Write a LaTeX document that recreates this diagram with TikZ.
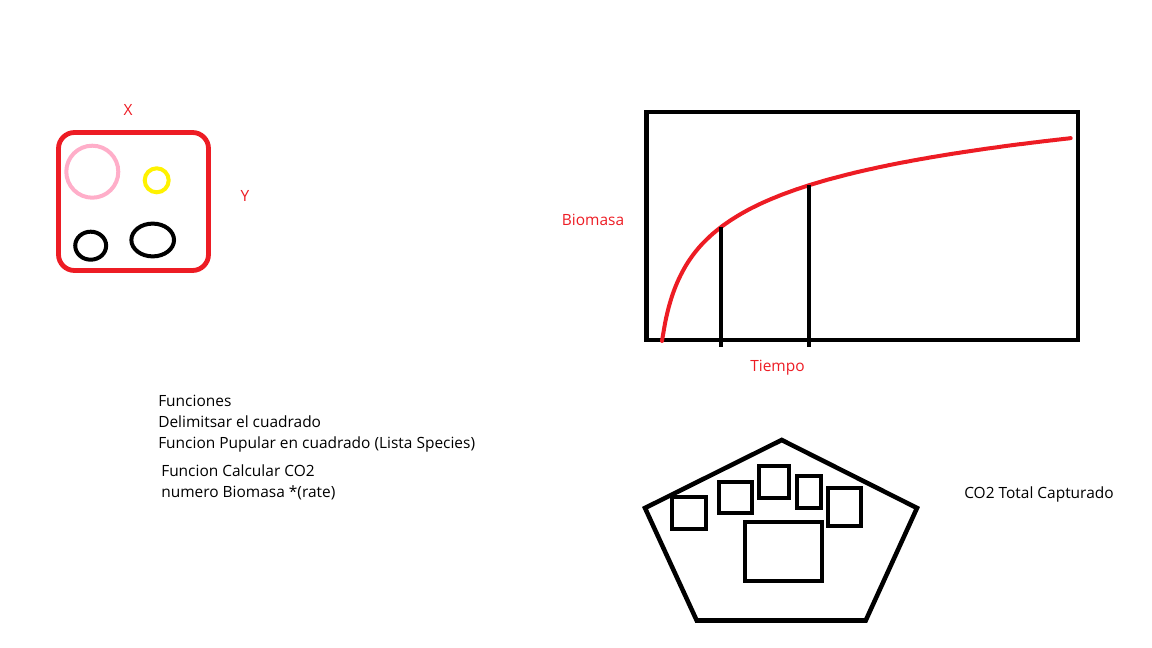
\documentclass[tikz,border=0pt]{standalone}
\usepackage{fontspec}
\setmainfont{Open Sans}
\definecolor{paintred}{HTML}{ED1C24}
\definecolor{paintpink}{HTML}{FFAEC9}
\definecolor{paintyellow}{HTML}{FFF200}
\tikzset{
    redlabel/.style={text=paintred, font=\fontsize{11.6}{14}\selectfont, inner sep=0pt},
    blacklabel/.style={text=black, font=\fontsize{11.6}{14}\selectfont, inner sep=0pt, anchor=base west},
    thickline/.style={line width=3.4pt},
    blob/.style={line width=3pt},
}
\begin{document}
\begin{tikzpicture}[x=0.75pt,y=-0.75pt]
        \useasboundingbox (0,0) rectangle (1152,648);

        % Square with species
        \draw[paintred, line width=3.6pt, rounded corners=12pt] (58.5,132.5) rectangle (208.5,270.5);
        \node[redlabel] (xlab) at (128,110) {X};
        \node[redlabel] (ylab) at (245,196) {Y};
        \draw[blob, paintpink] (92.3,171.7) circle [radius=19.5pt];
        \draw[blob, paintyellow] (156.7,180.3) circle [radius=9pt];
        \draw[blob] (90.7,245.7) ellipse [x radius=11.6pt, y radius=10.5pt];
        \draw[blob] (152.7,240) ellipse [x radius=16pt, y radius=12.3pt];

        % Biomass curve
        \draw[thickline] (646.5,112) rectangle (1078,340);
        \draw[paintred, line width=3pt, line cap=round] plot[domain=0:408.7, samples=120, smooth]
            ({662+\x}, {341-1132*(1-exp(-0.05*ln(1+\x/8)))});
        \draw[line width=3pt] (720.7,227) -- (720.7,346.7);
        \draw[line width=3pt] (809.3,185) -- (809.3,346.7);
        \node[redlabel] (biomasa) at (593,219.5) {Biomasa};
        \node[redlabel] (tiempo) at (777.5,367.5) {Tiempo};

        % Functions
        \node[blacklabel] (fun0) at (158,406.7) {Funciones};
        \node[blacklabel] (fun1) at (158,427.5) {Delimitsar el cuadrado};
        \node[blacklabel] (fun2) at (158,448.5) {Funcion Pupular en cuadrado (Lista Species)};
        \node[blacklabel] (fun3) at (161,476) {Funcion Calcular CO2};
        \node[blacklabel] (fun4) at (161,497) {numero Biomasa *(rate)};

        % Total CO2
        \draw[thickline] (781.7,440) -- (917,508) -- (865.7,620.5) -- (696.7,620.5) -- (645,508) -- cycle;
        \draw[blob] (672,497) rectangle (706,529);
        \draw[blob] (719.3,482) rectangle (751.7,513);
        \draw[blob] (759.3,466) rectangle (789.3,498);
        \draw[blob] (797.3,476) rectangle (821,508);
        \draw[blob] (827.7,488) rectangle (860.7,525.7);
        \draw[blob] (745,521.7) rectangle (822.3,580.7);
        \node[blacklabel] (total) at (964,498) {CO2 Total Capturado};

\end{tikzpicture}
\end{document}
